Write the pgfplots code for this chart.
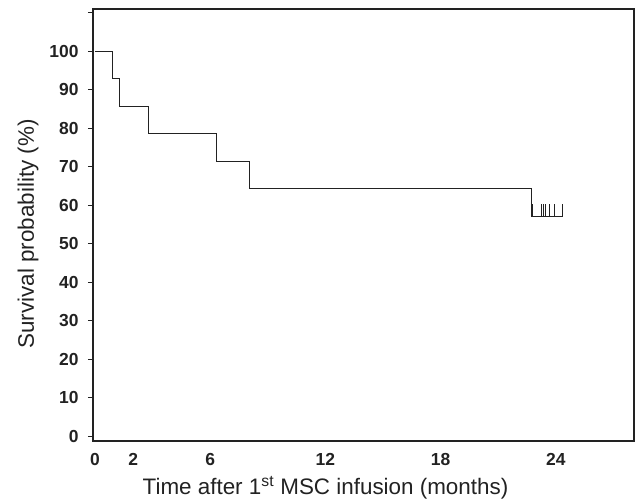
\documentclass[border=0pt]{standalone}
\usepackage{fontspec}
\setmainfont{Liberation Sans}
\usepackage{pgfplots}
\pgfplotsset{compat=1.18}

\definecolor{ink}{HTML}{222222}

\begin{document}
\begin{tikzpicture}
\begin{axis}[
    name=ax,
    scale only axis,
    width=541bp, height=432bp,
    xmin=-0.1, xmax=28.07,
    ymin=-1.3, ymax=111,
    axis line style={ink, line width=1.1bp},
    xtick={0,2,6,12,18,24},
    xtick style={draw=none},
    ytick={0,10,...,110},
    yticklabels={0,10,20,30,40,50,60,70,80,90,100,},
    ytick pos=left,
    tick align=outside,
    major tick length=5bp,
    ytick style={ink, line width=0.8bp},
    /pgf/number format/assume math mode=true,
    tick label style={font=\bfseries\fontsize{17.5}{20}\selectfont, text=ink},
    yticklabel style={xshift=-6bp},
    xticklabel style={yshift=-4bp},
    xlabel={Time after 1\textsuperscript{st} MSC infusion (months)},
    ylabel={Survival probability (\%)},
    label style={font=\fontsize{22.5}{25}\selectfont, text=ink},
    xlabel style={xshift=-38bp, yshift=-4bp},
    ylabel style={yshift=4bp, xshift=-9bp},
]
\addplot[const plot, ink, line width=0.9bp] coordinates {
    (0,100) (0.9,92.86) (1.27,85.71) (2.78,78.57) (6.34,71.43)
    (8.07,64.29) (22.74,57.14) (24.36,57.14)
};
% censored observations
\addplot[draw=none, mark=none,
    error bars/.cd, y dir=plus, y explicit, error mark=none,
    error bar style={ink, line width=0.8bp}]
    coordinates {
    (22.8,57.14) +- (0,3.2)
    (23.27,57.14) +- (0,3.2)
    (23.33,57.14) +- (0,3.2)
    (23.44,57.14) +- (0,3.2)
    (23.65,57.14) +- (0,3.2)
    (23.9,57.14) +- (0,3.2)
    (24.36,57.14) +- (0,3.2)
};
\end{axis}
\path ([xshift=-93bp,yshift=-60bp]ax.south west) rectangle ([xshift=4bp,yshift=9bp]ax.north east);
\end{tikzpicture}
\end{document}
